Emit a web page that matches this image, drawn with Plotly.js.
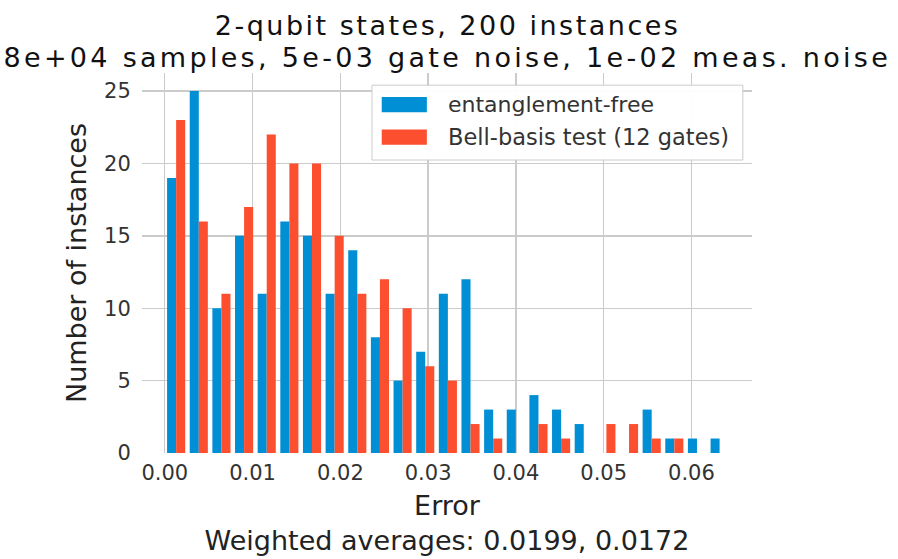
<!DOCTYPE html>
<html>
<head>
<meta charset="utf-8">
<script src="https://cdn.plot.ly/plotly-3.0.1.min.js"></script>
<style>
html,body{margin:0;padding:0;background:#fff;}
#chart{width:898px;height:559px;}
.annotation-text.wide1{letter-spacing:2.5px;}
.annotation-text.wide2{letter-spacing:3.3px;}
</style>
</head>
<body>
<div id="chart"></div>
<script>
// Histogram counts per bin (25 bins)
const countsEntFree = [19, 25, 10, 15, 11, 16, 15, 11, 14, 8, 5, 7, 11, 12, 3, 3, 4, 3, 2, 0, 0, 3, 1, 1, 1];
const countsBell    = [23, 16, 11, 17, 22, 20, 20, 15, 11, 12, 10, 6, 5, 2, 1, 0, 2, 1, 0, 2, 2, 1, 1, 0, 0];
const errMin = 0.0;
const errMax = 0.0645;
const nBins = 25;
const seriesNames = ["entanglement-free", "Bell-basis test (12 gates)"];
const seriesColors = ["#008fd5", "#fc4f30"];
const titleLines = ["2-qubit states, 200 instances", "8e+04 samples, 5e-03 gate noise, 1e-02 meas. noise"];
const xTicks = [0.00, 0.01, 0.02, 0.03, 0.04, 0.05, 0.06];
const xTickText = ["0.00", "0.01", "0.02", "0.03", "0.04", "0.05", "0.06"];
const yTicks = [0, 5, 10, 15, 20, 25];

const binW = (errMax - errMin) / nBins;
const centers = countsEntFree.map((_, i) => errMin + binW * (i + 0.5));

const font = "DejaVu Sans, Liberation Sans, sans-serif";
const traces = [
  {type: "bar", x: centers, y: countsEntFree, name: seriesNames[0], showlegend: false,
   marker: {color: seriesColors[0], line: {width: 0}}},
  {type: "bar", x: centers, y: countsBell, name: seriesNames[1], showlegend: false,
   marker: {color: seriesColors[1], line: {width: 0}}}
];

// custom legend (wide swatches like the reference)
const shapes = [
  {type: "rect", xref: "paper", yref: "paper", x0: 0.377, x1: 0.985, y0: 0.771, y1: 0.968,
   fillcolor: "rgba(255,255,255,0.95)", line: {color: "#cccccc", width: 1}, layer: "above"},
  {type: "rect", xref: "paper", yref: "paper", x0: 0.393, x1: 0.467, y0: 0.897, y1: 0.937,
   fillcolor: seriesColors[0], line: {width: 0}, layer: "above"},
  {type: "rect", xref: "paper", yref: "paper", x0: 0.393, x1: 0.467, y0: 0.811, y1: 0.851,
   fillcolor: seriesColors[1], line: {width: 0}, layer: "above"}
];
const annotations = [
  {text: seriesNames[0], xref: "paper", yref: "paper", x: 0.499, y: 0.918, xanchor: "left", yanchor: "middle",
   showarrow: false, font: {size: 22, color: "#333"}},
  {text: seriesNames[1], xref: "paper", yref: "paper", x: 0.499, y: 0.832, xanchor: "left", yanchor: "middle",
   showarrow: false, font: {size: 22.5, color: "#333"}},
  {text: titleLines[0], xref: "paper", yref: "paper", x: 0.5, y: 1.124, xanchor: "center", yanchor: "middle",
   showarrow: false, font: {size: 27, color: "#111"}},
  {text: titleLines[1], xref: "paper", yref: "paper", x: 0.5, y: 1.040, xanchor: "center", yanchor: "middle",
   showarrow: false, font: {size: 27, color: "#111"}}
];

const layout = {
  width: 898, height: 559,
  margin: {l: 142, r: 146, t: 73, b: 106},
  paper_bgcolor: "#ffffff", plot_bgcolor: "#ffffff",
  font: {family: font, color: "#222"},
  barmode: "group", bargap: 0.2, bargroupgap: 0,
  xaxis: {range: [-0.0026, 0.0669], tickvals: xTicks, ticktext: xTickText,
          showgrid: true, gridcolor: "#cbcbcb", gridwidth: 1.3, zeroline: false,
          ticks: "outside", ticklen: 1, tickcolor: "rgba(0,0,0,0)",
          tickfont: {size: 21, color: "#333"}, showline: false,
          title: {text: "Error<br>Weighted averages: 0.0199, 0.0172", font: {size: 27, color: "#222"}, standoff: 11}},
  yaxis: {range: [0, 26.25], tickvals: yTicks, showgrid: true, gridcolor: "#cbcbcb", gridwidth: 1.3,
          zeroline: false, ticks: "outside", ticklen: 6, tickcolor: "rgba(0,0,0,0)",
          tickfont: {size: 21, color: "#333"}, showline: false,
          title: {text: "Number of instances", font: {size: 27, color: "#222"}, standoff: 9}},
  showlegend: false,
  shapes: shapes,
  annotations: annotations
};

Plotly.newPlot("chart", traces, layout, {displayModeBar: false, staticPlot: true}).then(function (gd) {
  // widen the two title lines like the reference's wide title text
  const texts = gd.querySelectorAll(".annotation-text");
  texts.forEach(function (t) {
    const s = t.textContent;
    if (s === titleLines[0]) t.classList.add("wide1");
    if (s === titleLines[1]) t.classList.add("wide2");
  });
});
</script>
</body>
</html>
